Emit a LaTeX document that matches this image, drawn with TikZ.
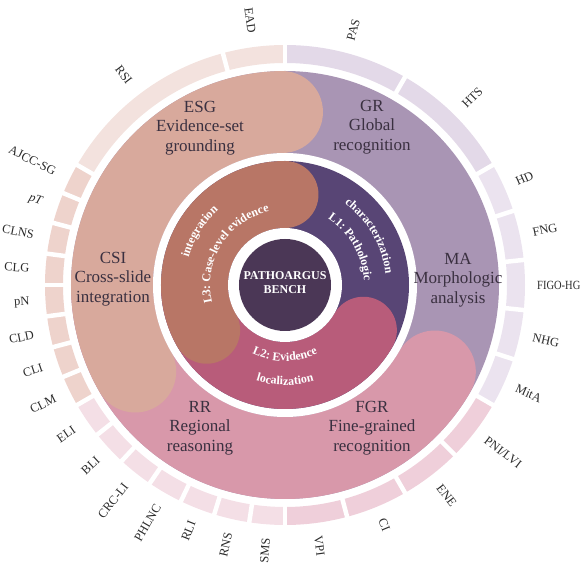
\documentclass[tikz,border=0pt]{standalone}
\usepackage{fontspec}
\setmainfont{Liberation Serif}
\usetikzlibrary{decorations.text}
\definecolor{cSal}{HTML}{D8A99C}
\definecolor{cLav}{HTML}{A995B4}
\definecolor{cPnk}{HTML}{D898AA}
\definecolor{cBrn}{HTML}{B87666}
\definecolor{cPur}{HTML}{584575}
\definecolor{cRos}{HTML}{B85C7A}
\definecolor{cCen}{HTML}{4B3756}
\definecolor{oESG}{HTML}{F3E2DE}
\definecolor{oCSI}{HTML}{EED3CC}
\definecolor{oRR}{HTML}{F4DFE6}
\definecolor{oFGR}{HTML}{EFCFDA}
\definecolor{oMA}{HTML}{EBE3EF}
\definecolor{oGR}{HTML}{E3D9E8}
\definecolor{tMid}{HTML}{3A3040}
\definecolor{tOut}{HTML}{2B2B2B}
\tikzset{
  labR/.style={rotate=#1, anchor=west, inner sep=2pt, text=tOut, font=\fontsize{12.5}{14}\selectfont},
  labL/.style={rotate={#1+180}, anchor=east, inner sep=2pt, text=tOut, font=\fontsize{12.5}{14}\selectfont},
  midlab/.style={align=center, text=tMid, font=\fontsize{17}{19.5}\selectfont, inner sep=0pt},
  curv/.style={decorate, decoration={text along path, text align=center, text color=white, text={|\bfseries\fontsize{12}{13}\selectfont|#1}}}
}
\begin{document}
\begin{tikzpicture}[x=1pt,y=1pt]
\useasboundingbox (-285pt,-284pt) rectangle (296pt,285pt);
% outer ring segments
\foreach \a/\b/\c in {90/105/oESG,105/150/oESG,
  150/157.5/oCSI,157.5/165/oCSI,165/172.5/oCSI,172.5/180/oCSI,180/187.5/oCSI,187.5/195/oCSI,195/202.5/oCSI,202.5/210/oCSI,
  210/218.571/oRR,218.571/227.143/oRR,227.143/235.714/oRR,235.714/244.286/oRR,244.286/252.857/oRR,252.857/261.429/oRR,261.429/270/oRR,
  270/285/oFGR,285/300/oFGR,300/315/oFGR,315/330/oFGR,
  330/342/oMA,342/354/oMA,354/366/oMA,366/378/oMA,378/390/oMA,
  390/420/oGR,420/450/oGR}{
  \fill[\c] (\a:222pt) arc[start angle=\a, end angle=\b, radius=222pt] -- (\b:240pt) arc[start angle=\b, end angle=\a, radius=240pt] -- cycle;
}
\foreach \a in {90,105,150,157.5,165,172.5,180,187.5,195,202.5,210,218.571,227.143,235.714,244.286,252.857,261.429,270,285,300,315,330,342,354,366,378,390,420}{
  \draw[white, line width=4.5pt] (\a:218pt) -- (\a:244pt);
}
% outer labels
\node[labL=97.5] (nEAD) at (97.5:252pt) {EAD};
\node[labL=127.5] (nRSI) at (127.5:253pt) {RSI};
\node[labL=153.75] (nAJCC) at (153.75:254pt) {AJCC-SG};
\node[labL=161.25] (npT) at (161.25:254pt) {\textit{pT}};
\node[labL=168.75] (nCLNS) at (168.75:254pt) {CLNS};
\node[labL=176.25] (nCLG) at (176.25:254pt) {CLG};
\node[labL=183.75] (npN) at (183.75:254pt) {pN};
\node[labL=191.25] (nCLD) at (191.25:254pt) {CLD};
\node[labL=198.75] (nCLI) at (198.75:254pt) {CLI};
\node[labL=206.25] (nCLM) at (206.25:254pt) {CLM};
\node[labL=214.286] (nELI) at (214.286:253pt) {ELI};
\node[labL=222.857] (nBLI) at (222.857:253pt) {BLI};
\node[labL=231.429] (nCRC) at (231.429:253pt) {CRC-LI};
\node[labL=240] (nPHLNC) at (240:252pt) {PHLNC};
\node[labL=248.571] (nRLI) at (248.571:252pt) {RLI};
\node[labL=257.143] (nRNS) at (257.143:252pt) {RNS};
\node[labL=265.714] (nSMS) at (265.714:252pt) {SMS};
\node[labR=277.5] (nVPI) at (277.5:251pt) {VPI};
\node[labR=292.5] (nCI) at (292.5:251pt) {CI};
\node[labR=307.5] (nENE) at (307.5:251pt) {ENE};
\node[labR=322.5] (nPNI) at (322.5:251pt) {PNI/LVI};
\node[labR=336] (nMitA) at (336:251pt) {MitA};
\node[labR=348] (nNHG) at (348:251pt) {NHG};
\node[labR=0] (nFIGO) at (0:250pt) {\scalebox{0.84}[1]{FIGO-HG}};
\node[labR=12] (nFNG) at (12:251pt) {FNG};
\node[labR=24] (nHD) at (24:251pt) {HD};
\node[labR=45] (nHTS) at (45:251pt) {HTS};
\node[labR=75] (nPAS) at (75:251pt) {PAS};
% middle ring
\fill[cLav] (0,0) circle[radius=214pt];
\fill[cPnk] (180:214pt) arc[start angle=180,end angle=330,radius=214pt] arc[start angle=330,end angle=510,radius=41pt] arc[start angle=330,end angle=180,radius=132pt] -- cycle;
\fill[cSal] (91:214pt) arc[start angle=91,end angle=210,radius=214pt] arc[start angle=210,end angle=390,radius=41pt] arc[start angle=210,end angle=91,radius=132pt] arc[start angle=271,end angle=451,radius=41pt] -- cycle;
\fill[white] (0,0) circle[radius=132pt];
% inner ring
\fill[cPur] (0,0) circle[radius=124pt];
\fill[cRos] (180:124pt) arc[start angle=180,end angle=330,radius=124pt] arc[start angle=330,end angle=510,radius=33.5pt] arc[start angle=330,end angle=180,radius=57pt] -- cycle;
\fill[cBrn] (90:124pt) arc[start angle=90,end angle=210,radius=124pt] arc[start angle=210,end angle=390,radius=33.5pt] arc[start angle=210,end angle=90,radius=57pt] arc[start angle=270,end angle=450,radius=33.5pt] -- cycle;
\fill[white] (0,0) circle[radius=57pt];
\fill[cCen] (0,0) circle[radius=46pt];
% middle labels
\node[midlab] (tESG) at (-85pt,157pt) {ESG\\Evidence-set\\grounding};
\node[midlab] (tGR) at (87pt,158pt) {GR\\Global\\recognition};
\node[midlab] (tMA) at (173pt,5pt) {MA\\Morphologic\\analysis};
\node[midlab] (tFGR) at (87pt,-143pt) {FGR\\Fine-grained\\recognition};
\node[midlab] (tRR) at (-85pt,-143pt) {RR\\Regional\\reasoning};
\node[midlab] (tCSI) at (-172pt,6pt) {CSI\\Cross-slide\\integration};
% curved inner labels
\path[curv={L1: Pathologic}] (75:79pt) arc[start angle=75,end angle=-15,radius=79pt];
\path[curv={characterization}] (75:101pt) arc[start angle=75,end angle=-15,radius=101pt];
\path[curv={L3: Case-level evidence}] (210:75pt) arc[start angle=210,end angle=86,radius=75pt];
\path[curv={integration}] (208:100pt) arc[start angle=208,end angle=88,radius=100pt];
\path[curv={L2: Evidence}] (-150:76pt) arc[start angle=-150,end angle=-30,radius=76pt];
\path[curv={localization}] (-150:100pt) arc[start angle=-150,end angle=-30,radius=100pt];
% center
\node[align=center, text=white, font=\bfseries\fontsize{12}{14}\selectfont] (tC) at (0,2pt) {PATHOARGUS\\BENCH};
\end{tikzpicture}
\end{document}
